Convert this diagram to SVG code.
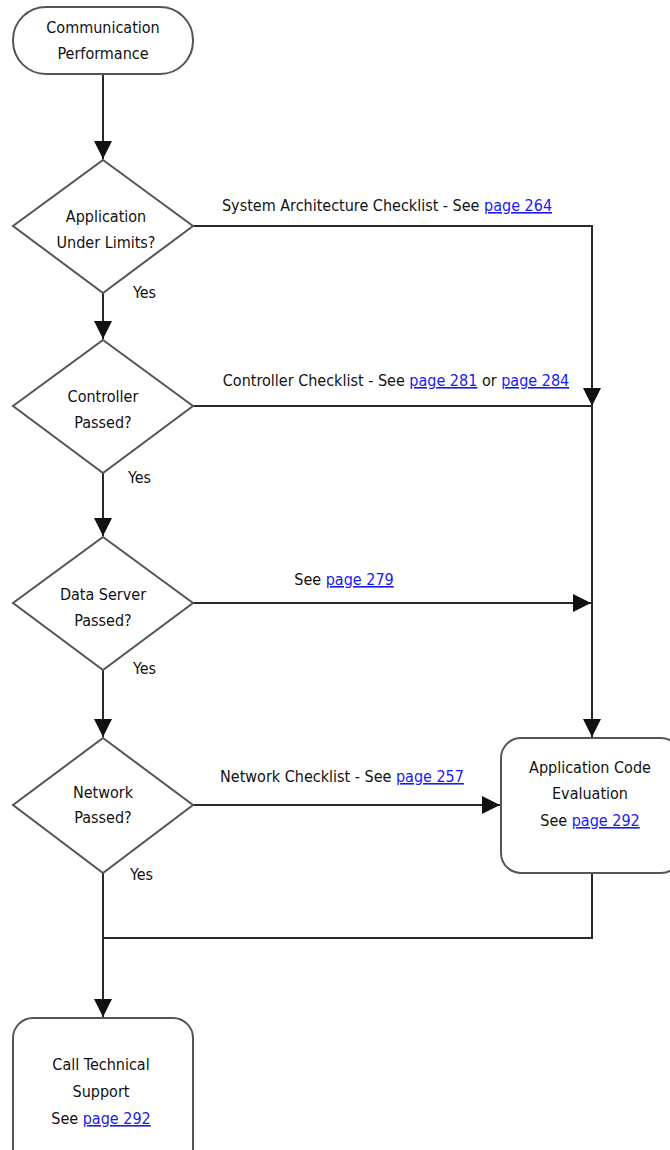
<svg xmlns="http://www.w3.org/2000/svg" width="670" height="1150" viewBox="0 0 670 1150">
<style>
text{font-family:"Liberation Sans Narrow","DejaVu Sans Condensed","Liberation Sans",sans-serif;font-size:16px;fill:#111;}
.c{text-anchor:middle;}
.l{fill:#1a1aee;text-decoration:underline;}
.shape{fill:#fff;stroke:#555;stroke-width:2;}
.conn{fill:none;stroke:#2a2a2a;stroke-width:2;}
</style>
<defs>
<marker id="ah2" viewBox="0 0 10 10" refX="10" refY="5" markerWidth="18" markerHeight="18" markerUnits="userSpaceOnUse" orient="auto"><path d="M0,0 L10,5 L0,10 z" fill="#111"/></marker>
</defs>
<g id="connectors">
<path class="conn" d="M103,74 V159" marker-end="url(#ah2)"/>
<path class="conn" d="M103,293 V339" marker-end="url(#ah2)"/>
<path class="conn" d="M103,473 V536" marker-end="url(#ah2)"/>
<path class="conn" d="M103,670 V737" marker-end="url(#ah2)"/>
<path class="conn" d="M103,873 V1017" marker-end="url(#ah2)"/>
<path class="conn" d="M193,226 H592 V406" marker-end="url(#ah2)"/>
<path class="conn" d="M193,406 H592 V737" marker-end="url(#ah2)"/>
<path class="conn" d="M193,603 H591" marker-end="url(#ah2)"/>
<path class="conn" d="M193,805 H500" marker-end="url(#ah2)"/>
<path class="conn" d="M592,873 V938 H103"/>
</g>
<g id="start">
<rect class="shape" x="13" y="7" width="180" height="67" rx="33"/>
<text class="c" x="103" y="33">Communication</text>
<text class="c" x="103" y="59">Performance</text>
</g>
<g id="d1">
<polygon class="shape" points="103,160 193,226 103,293 13,226"/>
<text class="c" x="106" y="222">Application</text>
<text class="c" x="106" y="248">Under Limits?</text>
<text x="133" y="298">Yes</text>
</g>
<g id="d2">
<polygon class="shape" points="103,340 193,406 103,473 13,406"/>
<text class="c" x="103" y="402">Controller</text>
<text class="c" x="103" y="428">Passed?</text>
<text x="128" y="483">Yes</text>
</g>
<g id="d3">
<polygon class="shape" points="103,537 193,603 103,670 13,603"/>
<text class="c" x="103" y="600">Data Server</text>
<text class="c" x="103" y="626">Passed?</text>
<text x="133" y="674">Yes</text>
</g>
<g id="d4">
<polygon class="shape" points="103,738 193,805 103,873 13,805"/>
<text class="c" x="103" y="798">Network</text>
<text class="c" x="103" y="823">Passed?</text>
<text x="130" y="880">Yes</text>
</g>
<g id="appcode">
<rect class="shape" x="501" y="738" width="180" height="135" rx="20"/>
<text class="c" x="590" y="773">Application Code</text>
<text class="c" x="590" y="799">Evaluation</text>
<text class="c" x="590" y="826">See <tspan class="l">page 292</tspan></text>
</g>
<g id="support">
<rect class="shape" x="13" y="1018" width="180" height="160" rx="20"/>
<text class="c" x="101" y="1070">Call Technical</text>
<text class="c" x="101" y="1097">Support</text>
<text class="c" x="101" y="1124">See <tspan class="l">page 292</tspan></text>
</g>
<g id="labels">
<text class="c" x="387" y="211">System Architecture Checklist - See <tspan class="l">page 264</tspan></text>
<text class="c" x="396" y="386">Controller Checklist - See <tspan class="l">page 281</tspan> or <tspan class="l">page 284</tspan></text>
<text class="c" x="344" y="585">See <tspan class="l">page 279</tspan></text>
<text class="c" x="342" y="782">Network Checklist - See <tspan class="l">page 257</tspan></text>
</g>
</svg>
